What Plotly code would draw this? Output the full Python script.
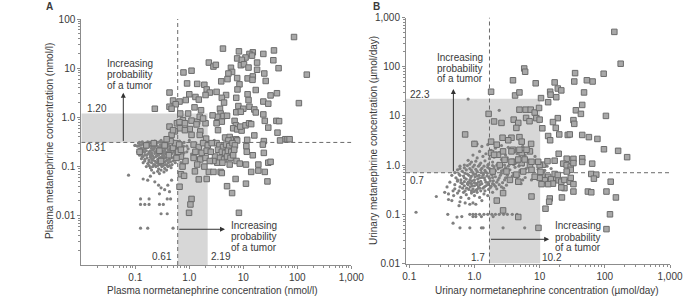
import numpy as np
import plotly.graph_objects as go

# ---------------- data ----------------
# Panel A: plasma normetanephrine (x) vs plasma metanephrine (y), nmol/l
a_tumor = [
    (87, 43), (4.2, 25), (8.3, 22), (37, 23), (15, 21), (13, 19.5), (14.5, 18), (11, 16.5), (23.5, 19.5), (7.7, 15.8),
    (9.4, 14.8), (36, 14.5), (18, 13), (9, 11.5), (10.3, 12), (12.5, 10.3), (45, 10), (18, 9.3), (5.9, 10.2), (6.2, 8.4),
    (5.3, 7.8), (24.5, 7.8), (150, 7.4), (7.7, 6.3), (12, 6.2), (15, 6.8), (14.8, 5.8), (5.1, 6.0), (3.9, 5.4), (26, 5.5),
    (8.5, 4.7), (7.8, 3.7), (17, 3.6), (3.2, 3.3), (12, 2.95), (42, 3.1), (32, 2.8), (4.8, 2.85), (4.0, 2.5), (4.4, 2.0),
    (7.4, 2.5), (12.5, 2.25), (23.5, 2.1), (29, 1.9), (107, 1.95), (3.7, 1.5), (8.1, 1.7), (10, 1.5), (13, 1.65), (16, 1.45),
    (17, 1.26), (7.4, 1.27), (9, 1.3), (3.8, 1.2), (3.3, 1.03), (4.3, 1.07), (5.0, 1.08), (4.0, 0.82), (23.5, 1.15), (25, 0.85),
    (41, 0.85), (46, 0.84), (6.9, 0.85), (7.3, 0.69), (6.5, 0.6), (7.7, 0.57), (9.3, 0.54), (8.8, 0.65), (11, 0.69), (12.8, 0.76),
    (14, 0.73), (29, 0.62), (43, 0.49), (16, 0.43), (4.6, 0.39), (5.6, 0.4), (6.4, 0.35), (7.4, 0.36), (7.7, 0.34), (5.3, 0.34),
    (11.8, 0.35), (24, 0.33), (60, 0.36), (66, 0.36), (72, 0.36), (48, 0.34),
    (0.23, 1.5), (0.43, 3.2), (0.78, 8.2), (1.1, 8.9), (2.3, 13), (2.8, 10.8), (3.1, 11.7), (0.91, 4.9), (1.4, 4.8), (1.9, 4.6),
    (2.1, 3.7), (2.4, 3.2), (2.0, 2.85), (1.0, 2.95), (1.3, 2.6), (1.5, 2.3), (0.5, 2.2), (0.66, 2.1), (0.86, 2.25), (0.43, 1.65),
    (0.56, 1.85), (0.68, 1.2), (0.95, 1.2), (0.76, 0.88), (1.25, 1.6), (1.65, 1.4), (1.4, 0.82), (2.0, 0.76), (2.7, 1.1), (3.2, 0.76),
    (3.4, 0.55), (0.59, 0.76), (0.67, 0.6), (0.54, 0.52), (1.02, 0.58), (1.1, 0.44), (1.6, 0.52), (0.47, 0.44), (0.47, 1.5),
    (0.43, 0.65), (0.5, 0.55), (0.66, 0.8), (0.83, 0.76), (0.83, 0.55), (1.1, 0.86), (1.36, 0.72), (1.56, 1.03), (1.8, 0.95),
    (1.56, 0.44), (2.05, 0.37),
    (0.66, 0.039), (1.1, 0.022), (1.05, 0.017), (0.99, 0.0115), (1.5, 0.055), (2.1, 0.056), (2.3, 0.078), (2.8, 0.078), (3.8, 0.078), (6.2, 0.029),
    (5.0, 0.04), (7.2, 0.056), (11.2, 0.045), (8.3, 0.0115), (11.4, 0.26), (11.6, 0.2), (15, 0.17), (23, 0.28), (24, 0.19), (11.2, 0.11),
    (19, 0.11), (29, 0.12), (32, 0.125), (14, 0.078), (19, 0.083), (25, 0.078), (28, 0.05), (4.0, 0.074), (0.7, 0.07), (0.8, 0.065),
    (7.5, 0.13), (8.6, 0.115), (5.6, 0.11), (1.27, 0.08),
    (3.2, 0.3), (3.6, 0.27), (4.2, 0.25), (4.8, 0.28), (5.5, 0.26), (6.3, 0.3), (7.0, 0.27), (3.4, 0.22), (4.0, 0.2), (4.6, 0.19),
    (5.2, 0.21), (6.0, 0.2), (6.8, 0.22), (3.0, 0.16), (3.7, 0.15), (4.4, 0.14), (5.0, 0.16), (5.8, 0.15), (6.5, 0.17), (3.3, 0.12),
    (4.1, 0.12), (2.8, 0.13), (1.2, 0.28), (1.5, 0.25), (1.8, 0.3), (2.2, 0.27), (2.6, 0.3), (1.3, 0.2), (1.7, 0.19), (2.1, 0.21),
    (2.5, 0.2), (1.2, 0.15), (1.6, 0.14), (2.0, 0.15), (2.4, 0.13), (1.4, 0.11), (1.9, 0.1), (0.75, 0.1), (0.85, 0.13), (0.7, 0.16),
    (0.16, 0.27), (0.22, 0.3), (0.28, 0.21), (0.35, 0.27), (0.42, 0.17), (0.5, 0.24), (0.55, 0.3), (0.62, 0.2), (0.45, 0.33), (0.12, 0.2),
    (0.3, 0.13), (0.58, 0.15), (0.65, 0.28), (0.7, 0.22), (0.38, 0.36),
]
a_normal = [
    (0.1, 0.27), (0.12, 0.31), (0.14, 0.29), (0.17, 0.32), (0.2, 0.3), (0.23, 0.33), (0.26, 0.31), (0.3, 0.34), (0.34, 0.3), (0.38, 0.33),
    (0.43, 0.31), (0.5, 0.34), (0.58, 0.3), (0.66, 0.33), (0.8, 0.31), (1.0, 0.34), (1.3, 0.3), (1.7, 0.33), (2.2, 0.31), (2.9, 0.34),
    (0.11, 0.26), (0.13, 0.28), (0.15, 0.25), (0.18, 0.27), (0.21, 0.26), (0.24, 0.28), (0.27, 0.25), (0.31, 0.27), (0.35, 0.26), (0.4, 0.28),
    (0.46, 0.25), (0.53, 0.27), (0.6, 0.26), (0.7, 0.28), (0.9, 0.26), (1.15, 0.27), (1.5, 0.25), (2.0, 0.27),
    (0.12, 0.23), (0.14, 0.22), (0.16, 0.24), (0.19, 0.21), (0.22, 0.23), (0.25, 0.22), (0.28, 0.24), (0.32, 0.21), (0.36, 0.23), (0.41, 0.22),
    (0.47, 0.24), (0.55, 0.21), (0.63, 0.23), (0.75, 0.22), (0.95, 0.23), (1.2, 0.21),
    (0.11, 0.2), (0.13, 0.19), (0.15, 0.2), (0.17, 0.18), (0.2, 0.19), (0.23, 0.2), (0.26, 0.18), (0.29, 0.2), (0.33, 0.19), (0.37, 0.18),
    (0.42, 0.2), (0.48, 0.19), (0.56, 0.18), (0.65, 0.2), (0.8, 0.19),
    (0.12, 0.17), (0.14, 0.16), (0.16, 0.17), (0.19, 0.155), (0.21, 0.165), (0.24, 0.16), (0.27, 0.17), (0.3, 0.155), (0.34, 0.165), (0.39, 0.16),
    (0.45, 0.17), (0.52, 0.155), (0.6, 0.16),
    (0.13, 0.145), (0.15, 0.14), (0.18, 0.135), (0.2, 0.145), (0.23, 0.13), (0.26, 0.14), (0.29, 0.135), (0.33, 0.145), (0.37, 0.13), (0.43, 0.14),
    (0.5, 0.13), (0.57, 0.14),
    (0.14, 0.12), (0.17, 0.115), (0.2, 0.12), (0.22, 0.11), (0.25, 0.12), (0.28, 0.11), (0.32, 0.12), (0.36, 0.11), (0.41, 0.12), (0.48, 0.11),
    (0.55, 0.12),
    (0.16, 0.1), (0.19, 0.095), (0.24, 0.1), (0.27, 0.09), (0.31, 0.1), (0.35, 0.092), (0.4, 0.1), (0.46, 0.095),
    (0.2, 0.085), (0.26, 0.08), (0.3, 0.085), (0.34, 0.078), (0.38, 0.085), (0.22, 0.075), (0.28, 0.072),
    (0.115, 0.3), (0.135, 0.32), (0.155, 0.3), (0.185, 0.31), (0.215, 0.32), (0.245, 0.3), (0.28, 0.32), (0.32, 0.31), (0.36, 0.32), (0.41, 0.3),
    (0.47, 0.32), (0.54, 0.31), (0.62, 0.32), (0.72, 0.3),
    (0.12, 0.27), (0.145, 0.265), (0.165, 0.28), (0.195, 0.26), (0.225, 0.275), (0.255, 0.26), (0.29, 0.28), (0.33, 0.26), (0.37, 0.275), (0.43, 0.26),
    (0.5, 0.28), (0.57, 0.26), (0.65, 0.27), (0.78, 0.26),
    (0.13, 0.24), (0.15, 0.23), (0.175, 0.25), (0.2, 0.235), (0.23, 0.245), (0.265, 0.23), (0.3, 0.245), (0.34, 0.235), (0.39, 0.245), (0.44, 0.23),
    (0.51, 0.24), (0.59, 0.235), (0.68, 0.245),
    (0.12, 0.21), (0.14, 0.2), (0.16, 0.21), (0.18, 0.2), (0.21, 0.215), (0.24, 0.2), (0.27, 0.215), (0.31, 0.2), (0.35, 0.21), (0.39, 0.2),
    (0.45, 0.21), (0.52, 0.2), (0.6, 0.21),
    (0.13, 0.18), (0.15, 0.175), (0.18, 0.185), (0.2, 0.175), (0.23, 0.185), (0.26, 0.175), (0.29, 0.185), (0.32, 0.175), (0.36, 0.185), (0.41, 0.175),
    (0.47, 0.185), (0.54, 0.175),
    (0.135, 0.16), (0.165, 0.15), (0.19, 0.165), (0.22, 0.15), (0.25, 0.165), (0.28, 0.15), (0.32, 0.16), (0.36, 0.15), (0.42, 0.155), (0.48, 0.15),
    (0.15, 0.13), (0.18, 0.125), (0.21, 0.135), (0.24, 0.125), (0.27, 0.13), (0.31, 0.135), (0.35, 0.125), (0.39, 0.135), (0.45, 0.125),
    (0.18, 0.105), (0.21, 0.1), (0.23, 0.108), (0.26, 0.105), (0.3, 0.11), (0.33, 0.105), (0.38, 0.108), (0.43, 0.105),
    (0.075, 0.067), (0.098, 0.27), (0.14, 0.056), (0.17, 0.053), (0.19, 0.064), (0.23, 0.049), (0.27, 0.042), (0.3, 0.037), (0.35, 0.034),
    (0.4, 0.042), (0.43, 0.031), (0.28, 0.028), (0.47, 0.053),
    (0.125, 0.022), (0.18, 0.022), (0.39, 0.022), (0.45, 0.022), (0.125, 0.017), (0.15, 0.017), (0.18, 0.017), (0.28, 0.017), (0.33, 0.017),
    (0.3, 0.011), (0.39, 0.011), (0.125, 0.0056), (0.17, 0.0056), (0.5, 0.0056),
    (1.1, 0.18), (1.4, 0.15), (2.5, 0.22), (0.85, 0.14), (0.7, 0.12), (0.75, 0.17), (0.9, 0.2),
]

# Panel B: urinary normetanephrine (x) vs urinary metanephrine (y), umol/day
b_tumor = [
    (140, 510), (175, 115), (5.8, 92), (6.0, 79), (3.9, 53), (8.7, 46), (17, 48), (35, 74), (34, 50), (53, 53),
    (65, 50), (96, 72), (48, 30), (19, 36), (21.5, 33), (14.5, 31), (14.7, 27), (18, 24), (10.5, 23), (4.2, 26),
    (4.9, 30), (1.8, 31),
    (1.65, 11), (2.6, 7.2), (4.0, 8.4), (4.7, 7.2), (4.9, 13.4), (6.1, 13.4), (7.3, 13.4), (8.4, 11.7), (9.8, 14.5), (6.2, 9.1),
    (7.0, 7.8), (8.9, 9.0), (10, 8.4), (4.4, 5.7), (2.7, 3.6), (3.7, 3.6), (4.9, 3.7), (5.3, 3.0), (0.72, 4.2), (1.8, 3.0),
    (1.0, 2.7), (2.2, 2.6), (3.3, 3.2), (7.4, 2.7), (2.0, 7.7), (13.5, 19),
    (45, 16.7), (36, 13), (43, 11), (104, 10), (19, 9), (33, 8.2), (34, 6.9), (16, 7.5), (17.7, 5.7), (11, 5.6),
    (20, 4.2), (27, 4.1), (29, 4.2), (45, 4.1), (57, 3.7), (77, 3.4), (13.5, 3.9), (14.5, 3.2), (97, 2.1), (160, 1.95),
    (220, 1.45), (19.6, 1.7), (26, 1.35), (33, 1.34), (45, 1.38), (45, 1.16), (64, 1.07), (11.3, 1.02), (13.2, 1.2), (17, 1.23),
    (23, 1.07), (26, 1.0), (30, 0.93), (33, 1.1), (30, 0.8), (26, 0.74), (62, 0.66), (74, 0.64), (68, 0.53), (123, 0.46),
    (106, 0.29), (148, 0.22), (55, 0.29), (62, 0.28), (33, 0.29), (24, 0.34), (21.5, 0.35), (22, 0.22), (14.3, 0.21), (14, 0.18),
    (12.3, 0.13), (120, 0.1), (106, 0.05), (13.5, 0.58), (15, 0.52), (18, 0.55), (19.5, 0.49), (16, 0.42), (21.5, 0.46), (24, 0.5),
    (29, 0.46), (30, 0.55), (33, 0.41), (11, 0.63), (12, 0.49), (13.5, 0.41), (17, 0.66), (19, 0.63), (10, 1.0), (10.3, 0.73),
    (10, 0.55), (10.7, 0.41),
    (1.8, 1.76), (2.3, 1.62), (2.75, 1.9), (3.9, 2.05), (5.3, 1.76), (7.1, 1.9), (2.9, 1.28), (3.9, 1.17), (5.3, 1.1), (7.1, 1.0),
    (9.5, 1.17), (2.45, 1.0), (1.9, 0.74), (3.1, 0.74), (4.4, 0.64), (5.6, 0.74), (7.5, 0.8), (8.4, 0.58), (4.7, 0.46), (3.5, 0.5),
    (2.75, 0.27), (2.2, 0.19), (7.5, 0.23), (4.7, 0.088), (9.6, 0.053), (2.75, 0.12), (3.7, 1.17), (4.7, 1.3), (5.9, 1.3), (7.5, 1.17),
    (2.0, 1.62), (3.7, 1.9), (4.9, 2.05), (6.3, 2.05),
]
b_normal = [
    (1.0, 2.9), (1.3, 2.4), (1.6, 2.6), (2.1, 2.2), (2.6, 2.5), (3.3, 2.3), (4.1, 2.1), (5.5, 2.4), (1.2, 1.9), (1.5, 1.7),
    (1.8, 2.0), (2.4, 1.8), (3.0, 1.6), (3.6, 1.9), (4.5, 1.7), (6.0, 1.6), (7.5, 1.8), (0.95, 1.6), (1.1, 1.4), (1.35, 1.5),
    (1.7, 1.35), (2.0, 1.45), (2.6, 1.3), (3.2, 1.4), (4.0, 1.25), (5.0, 1.4), (6.5, 1.3), (8.5, 1.5), (0.8, 1.25), (0.9, 1.15),
    (1.05, 1.2), (1.25, 1.1), (1.45, 1.22), (1.65, 1.05), (1.9, 1.15), (2.3, 1.08), (2.8, 1.2), (3.5, 1.05), (4.4, 1.12), (5.6, 1.0),
    (7.0, 1.1), (9.0, 1.2), (11, 1.05), (13, 0.95),
    (0.6, 0.95), (0.7, 0.88), (0.78, 0.98), (0.85, 0.85), (0.95, 0.92), (1.05, 0.82), (1.15, 0.95), (1.3, 0.86), (1.45, 0.78), (1.6, 0.9),
    (1.8, 0.8), (2.0, 0.93), (2.3, 0.84), (2.6, 0.76), (3.0, 0.88), (3.5, 0.8), (4.2, 0.9), (5.0, 0.78), (6.2, 0.85), (7.8, 0.75),
    (9.5, 0.82), (12, 0.78), (15, 0.85), (0.55, 0.8), (0.65, 0.75),
    (0.45, 0.62), (0.52, 0.55), (0.58, 0.66), (0.62, 0.5), (0.68, 0.6), (0.72, 0.68), (0.75, 0.52), (0.8, 0.45), (0.82, 0.62), (0.88, 0.56),
    (0.92, 0.48), (0.98, 0.65), (1.02, 0.58), (1.08, 0.42), (1.12, 0.52), (1.18, 0.62), (1.25, 0.47), (1.3, 0.56), (1.38, 0.66), (1.45, 0.5),
    (1.55, 0.6), (1.62, 0.44), (1.7, 0.54), (1.85, 0.64), (1.95, 0.48), (2.1, 0.58), (2.3, 0.5), (2.5, 0.62), (2.7, 0.44), (3.0, 0.55),
    (3.4, 0.48), (3.8, 0.6), (4.5, 0.52), (5.2, 0.42), (6.0, 0.56), (7.5, 0.5),
    (0.42, 0.45), (0.5, 0.4), (0.55, 0.47), (0.6, 0.36), (0.65, 0.42), (0.7, 0.38), (0.76, 0.34), (0.8, 0.4), (0.86, 0.36), (0.9, 0.42),
    (0.95, 0.33), (1.0, 0.38), (1.05, 0.31), (1.15, 0.36), (1.22, 0.4), (1.35, 0.34), (1.5, 0.38), (1.65, 0.32), (1.8, 0.37), (2.0, 0.4),
    (2.2, 0.33), (2.6, 0.36), (3.1, 0.39), (0.38, 0.36), (0.47, 0.3),
    (0.35, 0.28), (0.4, 0.26), (0.48, 0.24), (0.55, 0.27), (0.62, 0.22), (0.68, 0.28), (0.75, 0.25), (0.82, 0.21), (0.9, 0.27), (1.0, 0.24),
    (1.1, 0.28), (1.2, 0.22), (1.4, 0.26), (1.6, 0.24), (1.9, 0.28), (0.26, 0.23), (0.45, 0.19), (0.6, 0.18), (0.72, 0.17), (0.85, 0.16),
    (0.95, 0.17), (1.05, 0.16), (1.3, 0.19), (0.58, 0.15), (0.4, 0.2),
    (0.5, 0.7), (0.6, 0.62), (0.7, 0.55), (0.78, 0.66), (0.85, 0.5), (0.9, 0.6), (0.95, 0.7), (1.0, 0.5), (1.05, 0.66), (1.1, 0.6),
    (1.15, 0.45), (1.2, 0.55), (1.28, 0.7), (1.35, 0.62), (1.42, 0.55), (1.5, 0.45), (1.58, 0.68), (1.66, 0.58), (1.75, 0.48), (1.9, 0.56),
    (2.0, 0.66), (2.2, 0.45), (2.4, 0.55), (2.6, 0.68), (2.9, 0.5), (3.2, 0.62), (3.6, 0.52), (4.0, 0.66), (4.8, 0.6), (5.5, 0.5),
    (0.55, 0.5), (0.62, 0.44), (0.7, 0.46), (0.78, 0.42), (0.85, 0.44), (0.92, 0.38), (1.0, 0.44), (1.1, 0.4), (1.2, 0.34), (1.3, 0.42),
    (1.42, 0.36), (1.6, 0.4), (1.75, 0.35), (1.9, 0.42), (2.1, 0.37), (2.4, 0.4), (2.8, 0.34),
    (0.5, 0.33), (0.58, 0.3), (0.66, 0.34), (0.72, 0.3), (0.82, 0.32), (0.9, 0.3), (0.98, 0.29), (1.1, 0.32), (1.25, 0.3), (1.45, 0.3),
    (0.7, 1.0), (0.85, 1.05), (1.0, 1.0), (1.2, 1.02), (1.4, 0.95), (1.6, 1.0), (1.9, 0.98), (2.2, 1.0), (2.5, 0.92), (2.9, 1.0),
    (3.3, 0.95), (4.0, 1.02), (4.8, 0.95),
    (0.6, 0.85), (0.75, 0.8), (0.9, 0.78), (1.1, 0.75), (1.25, 0.8), (1.5, 0.72), (1.7, 0.85), (2.1, 0.76), (2.4, 0.9), (2.8, 0.8),
    (0.85, 0.1), (0.95, 0.1), (1.05, 0.1), (1.2, 0.1), (1.4, 0.1), (1.6, 0.1), (1.85, 0.1), (2.1, 0.1), (2.4, 0.1), (2.8, 0.1),
    (3.2, 0.1), (3.8, 0.1), (4.5, 0.1), (0.39, 0.1), (0.127, 0.11),
    (0.54, 0.088), (0.64, 0.09), (0.95, 0.09), (1.05, 0.09), (1.28, 0.09), (1.94, 0.09),
    (0.47, 0.066), (0.6, 0.053), (0.85, 0.053), (1.28, 0.053), (1.36, 0.053), (2.75, 0.053), (5.9, 0.053),
    (0.8, 22), (2.4, 13), (1.1, 2.7),
]

# cut-offs (upper reference limit / threshold)
a_cut_x = [0.61, 2.19]
a_cut_y = [0.31, 1.20]
b_cut_x = [1.7, 10.2]
b_cut_y = [0.7, 22.3]

# tick labels
a_xticks, a_xtext = [0.1, 1, 10, 100, 1000], ["0.1", "1.0", "10", "100", "1,000"]
a_yticks, a_ytext = [0.01, 0.1, 1, 10, 100], ["0.01", "0.1", "1.0", "10", "100"]
b_xticks, b_xtext = [0.1, 1, 10, 100, 1000], ["0.1", "1.0", "10", "100", "1,000"]
b_yticks, b_ytext = [0.01, 0.1, 1, 10, 100, 1000], ["0.01", "0.1", "1.0", "10", "100", "1,000"]

# ---------------- figure ----------------
W, H = 685, 300
FONT = "Liberation Sans, Arial, Helvetica, sans-serif"
TXT = "#3a3a3a"
AX = "#8c8c8c"
SHADE = "#d7d7d7"


def fx(px):  # pixel -> paper x
    return px / W


def fy(py):  # pixel (from top) -> paper y
    return (H - py) / H


A_XR, A_YR = (-2, 3), (-3, 2)
B_XR, B_YR = (-1.05, 3), (-2, 3)

fig = go.Figure()


def panel(xa, ya, xr, yr, cut_x, cut_y, normal, tumor):
    xmin, xmax = 10 ** xr[0], 10 ** xr[1]
    ymin, ymax = 10 ** yr[0], 10 ** yr[1]
    px = [xmin, xmin, cut_x[1], cut_x[1], cut_x[0], cut_x[0], xmin]
    py = [cut_y[0], cut_y[1], cut_y[1], ymin, ymin, cut_y[0], cut_y[0]]
    fig.add_trace(go.Scatter(x=px, y=py, fill="toself", fillcolor=SHADE, mode="lines",
                             line=dict(width=0, color=SHADE), xaxis=xa, yaxis=ya,
                             hoverinfo="skip", showlegend=False))
    fig.add_trace(go.Scatter(x=[cut_x[0], cut_x[0]], y=[ymin, ymax], mode="lines",
                             line=dict(color="#6a6a6a", width=1, dash="4px,3px"),
                             xaxis=xa, yaxis=ya, showlegend=False, hoverinfo="skip", cliponaxis=False))
    fig.add_trace(go.Scatter(x=[xmin, xmax], y=[cut_y[0], cut_y[0]], mode="lines",
                             line=dict(color="#6a6a6a", width=1, dash="4px,3px"),
                             xaxis=xa, yaxis=ya, showlegend=False, hoverinfo="skip", cliponaxis=False))
    nx, ny = zip(*normal)
    fig.add_trace(go.Scatter(x=nx, y=ny, mode="markers", xaxis=xa, yaxis=ya, showlegend=False,
                             marker=dict(symbol="circle", size=3.2, color="#808080", line=dict(width=0))))
    tx, ty = zip(*tumor)
    fig.add_trace(go.Scatter(x=tx, y=ty, mode="markers", xaxis=xa, yaxis=ya, showlegend=False,
                             marker=dict(symbol="square", size=5.5, color="#a8a8a8",
                                         line=dict(width=1, color="#6c6c6c"))))


panel("x", "y", A_XR, A_YR, a_cut_x, a_cut_y, a_normal, a_tumor)
panel("x2", "y2", B_XR, B_YR, b_cut_x, b_cut_y, b_normal, b_tumor)


def minor_vals(lo, hi):
    return [m * 10.0 ** e for e in range(lo, hi) for m in range(2, 10)]


def axis(domain, rng, tv, tt, anchor, minor):
    return dict(type="log", domain=domain, range=list(rng), anchor=anchor,
                tickmode="array", tickvals=tv, ticktext=tt,
                showline=True, linecolor=AX, linewidth=1, mirror=False,
                ticks="outside", ticklen=3, tickcolor=AX, tickwidth=1,
                tickfont=dict(size=10, color=TXT, family=FONT),
                showgrid=False, zeroline=False, automargin=False,
                minor=dict(tickmode="array", tickvals=minor, ticks="outside", ticklen=2,
                           tickcolor=AX, showgrid=False))


fig.update_layout(
    width=W, height=H, margin=dict(l=0, r=0, t=0, b=0),
    paper_bgcolor="white", plot_bgcolor="white", showlegend=False,
    font=dict(family=FONT, size=10, color=TXT),
    xaxis=axis([fx(81.3), fx(351.3)], A_XR, a_xticks, a_xtext, "y", minor_vals(-2, 3)),
    yaxis=axis([fy(265), fy(19)], A_YR, a_yticks, a_ytext, "x", minor_vals(-3, 2)),
    xaxis2=axis([fx(406), fx(670)], B_XR, b_xticks, b_xtext, "y2", minor_vals(-2, 3)),
    yaxis2=axis([fy(263.5), fy(17.5)], B_YR, b_yticks, b_ytext, "x2", minor_vals(-2, 3)),
)

ann = []
L = np.log10


def txt(xref, yref, x, y, s, xanchor="center", yanchor="middle", xshift=0, yshift=0, size=10, bold=False):
    ann.append(dict(xref=xref, yref=yref, x=x, y=y, text=("<b>%s</b>" % s) if bold else s,
                    showarrow=False, xanchor=xanchor, yanchor=yanchor, xshift=xshift, yshift=yshift,
                    borderpad=0, font=dict(size=size, color=TXT, family=FONT)))


def arrow(xref, yref, x0, y0, x1, y1):
    ann.append(dict(xref=xref, yref=yref, axref=xref, ayref=yref, x=x1, y=y1, ax=x0, ay=y0,
                    text="", showarrow=True, arrowhead=2, arrowsize=1, arrowwidth=1,
                    arrowcolor="#333333", standoff=0, startstandoff=0))


lines3 = ["Increasing", "probability", "of a tumor"]

# Panel A arrows and text
arrow("x", "y", -1.222, L(a_cut_y[0]), -1.222, 0.50)
for s, yy in zip(lines3, [1.10, 0.862, 0.652]):
    txt("x", "y", -1.104, yy, s)
arrow("x", "y", L(a_cut_x[0]), -2.274, 0.661, -2.274)
for s, yy in zip(lines3, [-2.187, -2.425, -2.640]):
    txt("x", "y", 0.754, yy, s, xanchor="left")
txt("x", "y", -2, 0.181, "1.20", xanchor="left", xshift=5)
txt("x", "y", -2, -0.612, "0.31", xanchor="left", xshift=4)
txt("x", "y", L(a_cut_x[0]), -2.827, "0.61", xanchor="right", xshift=-5)
txt("x", "y", L(a_cut_x[1]), -2.827, "2.19", xanchor="left", xshift=2)

# Panel B arrows and text
arrow("x2", "y2", -0.323, L(b_cut_y[0]), -0.323, 1.547)
for s, yy in zip(lines3, [2.183, 1.967, 1.764]):
    txt("x2", "y2", -0.22, yy, s)
arrow("x2", "y2", L(b_cut_x[0]), -1.508, 1.147, -1.508)
for s, yy in zip(lines3, [-1.232, -1.467, -1.671]):
    txt("x2", "y2", 1.228, yy, s, xanchor="left")
txt("x2", "y2", B_XR[0], 1.445, "22.3", xanchor="left", xshift=3)
txt("x2", "y2", B_XR[0], -0.303, "0.7", xanchor="left", xshift=3)
txt("x2", "y2", L(b_cut_x[0]), -1.878, "1.7", xanchor="right", xshift=-3)
txt("x2", "y2", L(b_cut_x[1]), -1.878, "10.2", xanchor="left", xshift=1)

# axis titles and panel letters
txt("paper", "paper", fx(212), fy(290), "Plasma normetanephrine concentration (nmol/l)")
txt("paper", "paper", fx(547), fy(290), "Urinary normetanephrine concentration (µmol/day)")
ann.append(dict(xref="paper", yref="paper", x=fx(49), y=fy(141), text="Plasma metanephrine concentration (nmol/l)",
                textangle=-90, showarrow=False, xanchor="center", yanchor="middle",
                font=dict(size=10, color=TXT, family=FONT)))
ann.append(dict(xref="paper", yref="paper", x=fx(373), y=fy(141), text="Urinary metanephrine concentration (µmol/day)",
                textangle=-90, showarrow=False, xanchor="center", yanchor="middle",
                font=dict(size=10, color=TXT, family=FONT)))
txt("paper", "paper", fx(50), fy(7), "A", bold=True)
txt("paper", "paper", fx(376), fy(7), "B", bold=True)

fig.update_layout(annotations=ann)
# remove the default 8 px page margin so the 685x300 figure fills the window
fig.write_html("out.html", config={"displayModeBar": False},
               post_script="document.body.style.margin='0px';")
